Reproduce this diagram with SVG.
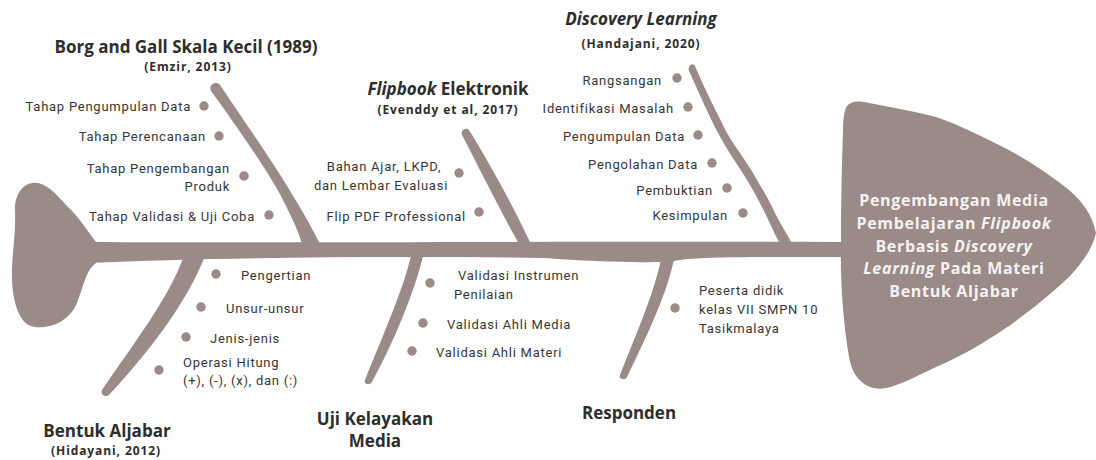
<svg xmlns="http://www.w3.org/2000/svg" width="1096" height="460" viewBox="0 0 1096 460">
<style>
.shape{fill:#9b8b88}
.dot{fill:#9b8b88}
.t{font-family:"Open Sans","DejaVu Sans",sans-serif;font-weight:700;font-size:17px;fill:#2d2d2d;text-anchor:middle}
.s{font-family:"Open Sans","DejaVu Sans",sans-serif;font-weight:700;font-size:12px;letter-spacing:0.9px;fill:#2d2d2d;text-anchor:middle}
.l{font-family:Roboto,"Liberation Sans",sans-serif;font-size:13px;letter-spacing:0.75px;fill:#363636}
.e{text-anchor:end}
.m{text-anchor:middle}
.h{font-family:"Open Sans","DejaVu Sans",sans-serif;font-weight:700;font-size:16px;letter-spacing:0.7px;fill:#f6f2f1;text-anchor:middle}
.i{font-style:italic}
</style>
<g id="connectors">
<path class="shape" d="M88,242 C300,243 600,241 850,242 L850,257 C800,257 700,256 680,260 C660,264 600,262 545,258 C400,256 220,257 88,263 Z"/>
<path class="shape" d="M211,91 C225,110 268,170 283,200 C292,218 298,230 302,244 L320,244 C316,236 305,215 295,199 C280,172 240,115 220,85 C216,80 208,85 211,91 Z"/>
<path class="shape" d="M462,135 C470,150 500,210 519,244 L531,244 C522,225 500,180 469,130 C467,127 460,130 462,135 Z"/>
<path class="shape" d="M689,71 C700,95 710,118 718,133 C728,152 738,165 747,180 C755,193 760,203 765,213 C772,228 776,236 780,244 L792,244 C788,235 781,225 775,213 C769,200 764,192 757,180 C748,163 737,150 727,133 C718,115 705,90 695,66 C693,62 687,66 689,71 Z"/>
<path class="shape" d="M183,258 L204,258 C196,280 170,330 109,395 C105,398 100,394 102,390 C140,335 170,295 183,258 Z"/>
<path class="shape" d="M411,256 L423,256 C415,290 395,340 372,382 C370,386 363,384 365,380 C383,335 403,290 411,256 Z"/>
<path class="shape" d="M661,259 L674,259 C668,290 650,330 627,377 C625,381 618,379 620,375 C638,330 655,290 661,259 Z"/>
</g>
<g id="tail">
<path class="shape" d="M96,242 C88,232 80,218 67,206 C55,193 45,181 32,183 C20,185 14,198 15,212 C16,235 11,260 12,280 C13,300 18,325 35,327 C52,329 70,320 77,303 C83,288 86,270 96,263 Z"/>
</g>
<g id="head">
<path class="shape" d="M846,108 C850,100 860,101 869,103 C890,107 912,111 936,117 C960,125 985,138 1003,147 C1030,161 1050,175 1069,190 C1082,201 1092,214 1096,233 C1092,250 1082,263 1069,277 C1048,297 1025,315 1003,330 C980,345 960,357 936,367 C915,377 900,385 886,388 C876,390 868,387 863,383 C855,377 851,368 849,357 C843,320 840,280 841,240 C841,200 842,160 843,130 C843,120 844,112 846,108 Z"/>
<text class="h" x="954" y="206">Pengembangan Media</text>
<text class="h" x="954" y="229">Pembelajaran <tspan class="i">Flipbook</tspan></text>
<text class="h" x="954" y="252">Berbasis <tspan class="i">Discovery</tspan></text>
<text class="h" x="954" y="274"><tspan class="i">Learning</tspan> Pada Materi</text>
<text class="h" x="954" y="297">Bentuk Aljabar</text>
</g>
<g id="borg">
<text class="t" x="186" y="53">Borg and Gall Skala Kecil (1989)</text>
<text class="s" x="188" y="71">(Emzir, 2013)</text>
<circle class="dot" cx="204" cy="106" r="4.7"/>
<circle class="dot" cx="219" cy="136" r="4.7"/>
<circle class="dot" cx="244" cy="176" r="4.7"/>
<circle class="dot" cx="269" cy="215" r="4.7"/>
<text class="l e" x="191" y="111">Tahap Pengumpulan Data</text>
<text class="l e" x="206" y="141">Tahap Perencanaan</text>
<text class="l e" x="230" y="172.5">Tahap Pengembangan</text>
<text class="l e" x="230" y="191">Produk</text>
<text class="l e" x="255" y="220.5">Tahap Validasi &amp; Uji Coba</text>
</g>
<g id="flipbook">
<text class="t" x="448" y="95"><tspan class="i">Flipbook</tspan> Elektronik</text>
<text class="s" x="448" y="114">(Evenddy et al, 2017)</text>
<circle class="dot" cx="459" cy="173" r="4.7"/>
<circle class="dot" cx="479" cy="212" r="4.7"/>
<text class="l m" x="384" y="171">Bahan Ajar, LKPD,</text>
<text class="l m" x="381" y="189.5">dan Lembar Evaluasi</text>
<text class="l e" x="466" y="220.5">Flip PDF Professional</text>
</g>
<g id="discovery">
<text class="t i" x="641" y="25">Discovery Learning</text>
<text class="s" x="641" y="47.5">(Handajani, 2020)</text>
<circle class="dot" cx="677" cy="78" r="4.7"/>
<circle class="dot" cx="688" cy="107" r="4.7"/>
<circle class="dot" cx="698" cy="135" r="4.7"/>
<circle class="dot" cx="712" cy="163" r="4.7"/>
<circle class="dot" cx="727" cy="188" r="4.7"/>
<circle class="dot" cx="743" cy="213" r="4.7"/>
<text class="l e" x="662" y="84.5">Rangsangan</text>
<text class="l e" x="674" y="112.5">Identifikasi Masalah</text>
<text class="l e" x="685" y="140.5">Pengumpulan Data</text>
<text class="l e" x="698" y="168.5">Pengolahan Data</text>
<text class="l e" x="713" y="194.5">Pembuktian</text>
<text class="l e" x="728" y="220">Kesimpulan</text>
</g>
<g id="bentuk">
<text class="t" x="107" y="437">Bentuk Aljabar</text>
<text class="s" x="106" y="455">(Hidayani, 2012)</text>
<circle class="dot" cx="216" cy="274" r="4.7"/>
<circle class="dot" cx="201" cy="307" r="4.7"/>
<circle class="dot" cx="186" cy="337" r="4.7"/>
<circle class="dot" cx="159" cy="370" r="4.7"/>
<text class="l" x="241" y="280">Pengertian</text>
<text class="l" x="226" y="312.5">Unsur-unsur</text>
<text class="l" x="210" y="343">Jenis-jenis</text>
<text class="l" x="183" y="366.5">Operasi Hitung</text>
<text class="l" x="183" y="385">(+), (-), (x), dan (:)</text>
</g>
<g id="uji">
<text class="t" x="375" y="425">Uji Kelayakan</text>
<text class="t" x="375" y="447">Media</text>
<circle class="dot" cx="430" cy="283" r="4.7"/>
<circle class="dot" cx="423" cy="323" r="4.7"/>
<circle class="dot" cx="412" cy="351" r="4.7"/>
<text class="l" x="458" y="280">Validasi Instrumen</text>
<text class="l" x="454" y="298.5">Penilaian</text>
<text class="l" x="447" y="329">Validasi Ahli Media</text>
<text class="l" x="436" y="357">Validasi Ahli Materi</text>
</g>
<g id="responden">
<text class="t" x="629" y="419">Responden</text>
<circle class="dot" cx="675" cy="308" r="4.7"/>
<text class="l" x="699" y="295">Peserta didik</text>
<text class="l" x="699" y="313.5">kelas VII SMPN 10</text>
<text class="l" x="699" y="332.5">Tasikmalaya</text>
</g>
</svg>
